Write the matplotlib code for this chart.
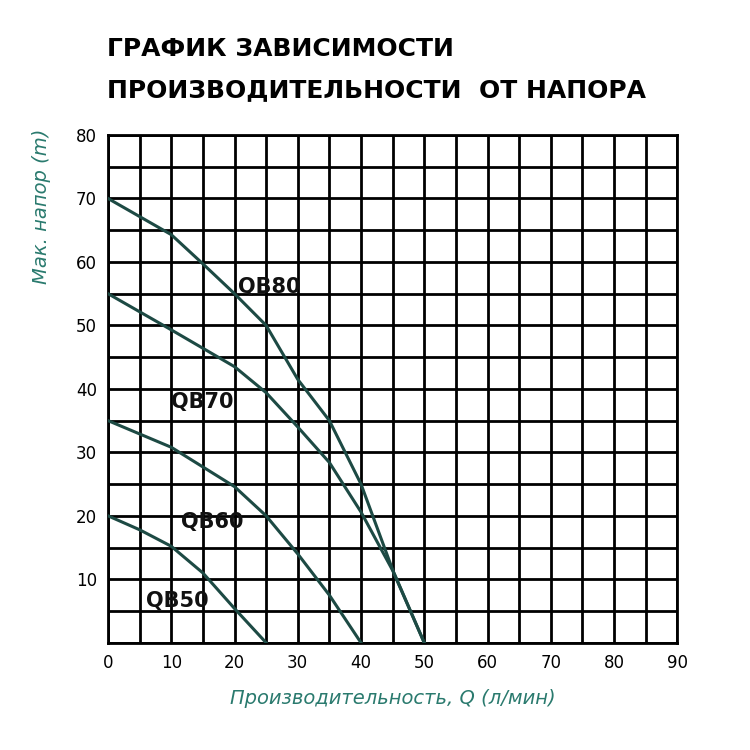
import matplotlib
matplotlib.use("Agg")
import matplotlib.pyplot as plt

qb80_x = [0, 10, 15, 20, 25, 30, 35, 40, 45, 50]
qb80_y = [70, 64.3, 59.7, 55, 50, 41.5, 35, 25, 11.5, 0]
qb70_x = [0, 10, 20, 25, 30, 35, 40, 45, 50]
qb70_y = [55, 49.3, 43.5, 39.4, 34, 28.4, 20.6, 11.4, 0]
qb60_x = [0, 10, 20, 25, 30, 35, 40]
qb60_y = [35, 30.8, 24.6, 20, 14, 7.5, 0]
qb50_x = [0, 5, 10, 15, 20, 25]
qb50_y = [20, 17.8, 15.2, 11, 5.4, 0]
labels = ["QB80", "QB70", "QB60", "QB50"]
label_pos = [(20.5, 56), (10, 38), (11.5, 19), (6, 6.5)]

curve_c = "#1d4a44"
teal = "#2a7a6e"

fig = plt.figure(figsize=(7.5, 7.5), dpi=100)
ax = fig.add_axes([0.144, 0.143, 0.759, 0.677])
for xs, ys in [(qb80_x, qb80_y), (qb70_x, qb70_y), (qb60_x, qb60_y), (qb50_x, qb50_y)]:
    ax.plot(xs, ys, color=curve_c, lw=2.2, zorder=3)
for lab, (x, y) in zip(labels, label_pos):
    ax.text(x, y, lab, fontsize=15, fontweight="bold", color="#111111", va="center", zorder=4)

ax.set_xlim(0, 90)
ax.set_ylim(0, 80)
ax.set_xticks(range(0, 91, 5), minor=False)
ax.set_yticks(range(0, 81, 5))
ax.grid(True, color="black", lw=2)
ax.set_xticklabels([str(v) if v % 10 == 0 else "" for v in range(0, 91, 5)])
ax.set_yticklabels([str(v) if v % 10 == 0 and v > 0 else "" for v in range(0, 81, 5)])
ax.tick_params(length=0, labelsize=12, pad=8)
for s in ax.spines.values():
    s.set_linewidth(2)
ax.set_xlabel("Производительность, Q (л/мин)", fontsize=14, style="italic", color=teal, labelpad=12)
ax.set_ylabel("Мак. напор (m)", fontsize=14, style="italic", color=teal, labelpad=10)
ax.yaxis.set_label_coords(-0.1, 0.86)
fig.text(0.143, 0.935, "ГРАФИК ЗАВИСИМОСТИ", fontsize=18, fontweight="bold", va="center")
fig.text(0.143, 0.88, "ПРОИЗВОДИТЕЛЬНОСТИ  ОТ НАПОРА", fontsize=18, fontweight="bold", va="center")
fig.savefig("out.png", dpi=100, facecolor="white")
